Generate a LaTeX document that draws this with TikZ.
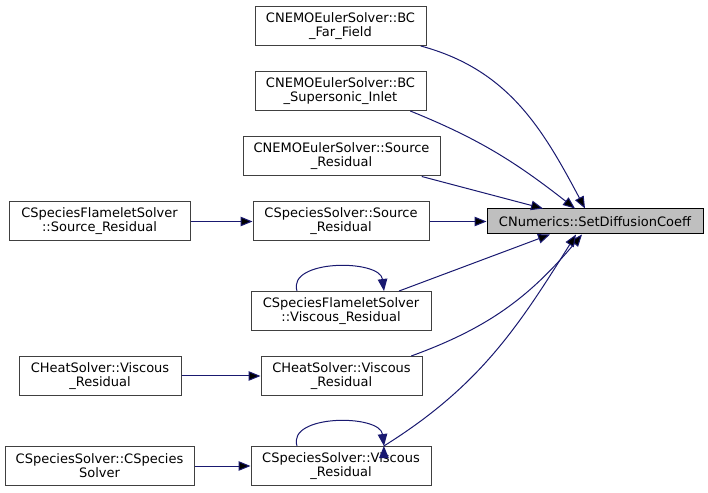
\documentclass[tikz,border=0pt]{standalone}
\usepackage{fontspec}
\setmainfont{DejaVu Sans}
\usetikzlibrary{arrows.meta}
\definecolor{edgeblue}{HTML}{191970}
\definecolor{boxgray}{HTML}{404040}
\definecolor{targetfill}{HTML}{BFBFBF}

\begin{document}
\begin{tikzpicture}[x=1pt, y=1pt, font=\fontsize{13}{14}\selectfont,
    fn/.style={draw=boxgray, line width=1pt, inner sep=0pt, align=center, minimum height=39pt},
    target/.style={fn, draw=black, fill=targetfill, minimum height=25pt},
    call/.style={draw=edgeblue, line width=1pt, -{Triangle[length=12pt, width=9.5pt]}}]
    \useasboundingbox (0,0) rectangle (708,492);

    \node[target, minimum width=216pt] (setdiff) at (595,270.5) {CNumerics::SetDiffusionCoeff};

    \node[fn, minimum width=171pt] (bcfar) at (340.5,466) {CNEMOEulerSolver::BC\\\_Far\_Field};
    \node[fn, minimum width=171pt] (bcsup) at (340.5,401) {CNEMOEulerSolver::BC\\\_Supersonic\_Inlet};
    \node[fn, minimum width=197pt] (nemosrc) at (341.5,335.5) {CNEMOEulerSolver::Source\\\_Residual};
    \node[fn, minimum width=176pt] (spsrc) at (341,270.5) {CSpeciesSolver::Source\\\_Residual};
    \node[fn, minimum width=180pt] (flamevisc) at (341,181) {CSpeciesFlameletSolver\\::Viscous\_Residual};
    \node[fn, minimum width=161pt] (heatvisc) at (341.5,116) {CHeatSolver::Viscous\\\_Residual};
    \node[fn, minimum width=180pt] (spvisc) at (341,26) {CSpeciesSolver::Viscous\\\_Residual};

    \node[fn, minimum width=181pt] (flamesrc) at (99.5,270.5) {CSpeciesFlameletSolver\\::Source\_Residual};
    \node[fn, minimum width=162pt] (heatcall) at (100,116) {CHeatSolver::Viscous\\\_Residual};
    \node[fn, minimum width=189pt] (spctor) at (99.5,26) {CSpeciesSolver::CSpecies\\Solver};

    \path[call]
        (bcfar.-14) edge[out=-15, in=118] ([xshift=-10pt]setdiff.north)
        (bcsup.-16) edge[out=-22, in=142] ([xshift=-20pt]setdiff.north)
        (nemosrc.-14) edge ([xshift=-52pt]setdiff.north)
        (spsrc) edge (setdiff)
        (flamevisc.19) edge ([xshift=-45pt]setdiff.south)
        (heatvisc.16) edge[out=20, in=-130] ([xshift=-13pt]setdiff.south)
        (spvisc.25) edge[out=32, in=-122] ([xshift=-19pt]setdiff.south)
        (flamesrc) edge (spsrc)
        (heatcall) edge (heatvisc)
        (spctor) edge (spvisc);

    \draw[call] ([xshift=-44pt]flamevisc.north) .. controls +(-10,32) and +(-4,32) .. ([xshift=43pt]flamevisc.north);
    \draw[call] ([xshift=-44pt]spvisc.north) .. controls +(-10,32) and +(-4,32) .. ([xshift=43pt]spvisc.north);
\end{tikzpicture}
\end{document}
